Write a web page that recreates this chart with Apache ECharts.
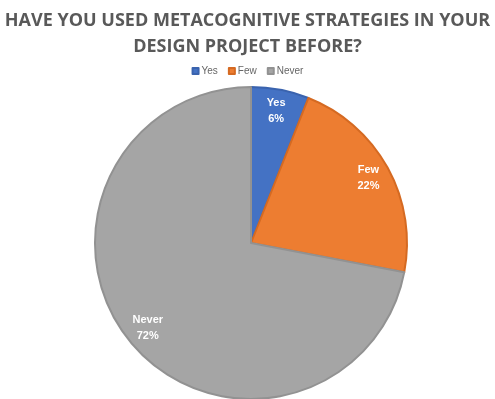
<!DOCTYPE html>
<html>
<head>
<meta charset="utf-8">
<script src="https://cdn.jsdelivr.net/npm/echarts@6/dist/echarts.min.js"></script>
<style>
  html, body { margin: 0; padding: 0; background: #ffffff; }
  #chart { width: 495px; height: 399px; }
</style>
</head>
<body>
<div id="chart"></div>
<script>
// Survey answers and their share of respondents (%)
const categories = ['Yes', 'Few', 'Never'];
const shares = [6, 22, 72];
const fillColors = ['#4472C4', '#ED7D31', '#A5A5A5'];
const edgeColors = ['#3A63AE', '#D56A22', '#929292'];

const titleText = 'HAVE YOU USED METACOGNITIVE STRATEGIES IN YOUR\nDESIGN PROJECT BEFORE?';

const chart = echarts.init(document.getElementById('chart'), null, { renderer: 'canvas' });

const pieData = categories.map((name, i) => ({
  name,
  value: shares[i],
  itemStyle: { color: fillColors[i], borderColor: edgeColors[i], borderWidth: 2 }
}));

const labelData = categories.map((name, i) => ({ name, value: shares[i] }));

chart.setOption({
  backgroundColor: '#ffffff',
  animation: false,
  title: {
    text: titleText,
    left: 'center',
    top: 3,
    textStyle: {
      fontFamily: 'Open Sans',
      fontWeight: 'bold',
      fontSize: 18,
      lineHeight: 26,
      color: '#595959'
    }
  },
  legend: {
    data: categories,
    top: 61,
    left: 'center',
    itemWidth: 6,
    itemHeight: 6,
    itemGap: 10,
    icon: 'rect',
    textStyle: { fontFamily: 'Liberation Sans', fontSize: 10, color: '#666666', padding: [0, 0, 0, -2] }
  },
  series: [
    {
      type: 'pie',
      center: [251, 243],
      radius: [0, 156],
      startAngle: 90,
      clockwise: true,
      label: { show: false },
      labelLine: { show: false },
      silent: true,
      data: pieData
    },
    {
      // Ring used only to place the slice labels at ~83% of the radius
      type: 'pie',
      center: [251, 243],
      radius: [106, 156],
      startAngle: 90,
      clockwise: true,
      silent: true,
      legendHoverLink: false,
      itemStyle: { color: 'rgba(0,0,0,0)', borderWidth: 0 },
      label: {
        show: true,
        position: 'inside',
        formatter: '{b}\n{c}%',
        color: '#ffffff',
        fontFamily: 'Liberation Sans',
        fontWeight: 'bold',
        fontSize: 11,
        lineHeight: 16
      },
      labelLine: { show: false },
      data: labelData,
      tooltip: { show: false }
    }
  ]
});
</script>
</body>
</html>
